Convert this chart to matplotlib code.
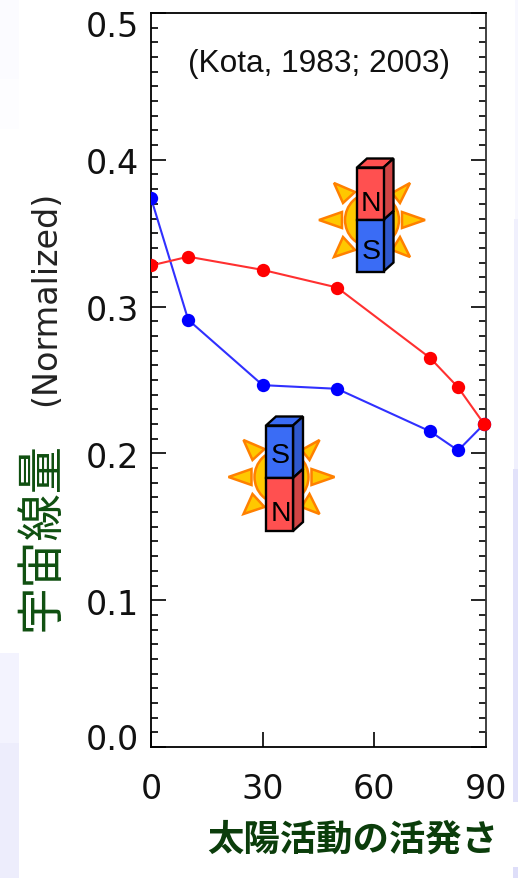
import matplotlib
matplotlib.use("Agg")
import matplotlib.pyplot as plt
from matplotlib.patches import Polygon, Rectangle, Circle
from matplotlib.transforms import Bbox, TransformedBbox

activity_x = [0, 10, 30, 50, 75, 82.5, 89.5]
red_values = [0.328, 0.334, 0.325, 0.313, 0.265, 0.245, 0.220]
blue_values = [0.374, 0.291, 0.2465, 0.244, 0.215, 0.202, 0.220]
x_ticks = [0, 30, 60, 90]
y_ticks = [0.0, 0.1, 0.2, 0.3, 0.4, 0.5]
y_label_shift_px = [-8, 4, 4, 4, 4, 13]
y_minor = [i / 100 for i in range(0, 51)]

W, H = 518, 879
fig = plt.figure(figsize=(W / 100, H / 100), dpi=100, facecolor="white")

# background slide remnants
bg = fig.add_axes([0, 0, 1, 1], zorder=0)
bg.set_xlim(0, W); bg.set_ylim(H, 0); bg.axis("off")
for (x, y, w, h, c) in [(0, 0, 19, 80, "#fbfbff"), (0, 80, 19, 50, "#fdfdff"),
                        (0, 654, 19, 90, "#f3f3fe"), (0, 744, 19, 135, "#ededfc"),
                        (515, 0, 3, 220, "#f8f8ff"), (514, 220, 4, 250, "#f0f0fd"),
                        (513, 470, 5, 333, "#e2e2fa"), (516, 803, 2, 65, "#ffffff"),
                        (513, 868, 5, 11, "#dedef9")]:
    bg.add_patch(Rectangle((x, y), w, h, fc=c, ec="none"))

# main plot
ax = fig.add_axes([151 / W, 1 - 748 / H, (486 - 151) / W, (748 - 14) / H], zorder=1)
ax.patch.set_alpha(0)
ax.set_xlim(0, 90); ax.set_ylim(0, 0.5)
ax.set_xticks(x_ticks); ax.set_yticks(y_ticks)
ax.set_yticks(y_minor, minor=True)
ax.tick_params(axis="y", which="major", direction="in", length=10.5, width=1.2, left=True, right=True,
               labelleft=False)
ax.tick_params(axis="y", which="minor", direction="in", length=5.3, width=1.2, left=True, right=True)
ax.tick_params(axis="x", which="major", direction="in", length=10.5, width=1.2, top=False,
               labelsize=24, pad=18, labelcolor="#111111")
for v, shift in zip(y_ticks, y_label_shift_px):
    ax.annotate(f"{v:.1f}", xy=(0, v), xycoords=("data", "data"), xytext=(-8.6, -shift * 0.72),
                textcoords="offset points", ha="right", va="center", fontsize=24,
                color="#111111", annotation_clip=False)
for s in ax.spines.values():
    s.set_linewidth(1.3)
ax.spines["right"].set_color("#333333")

clip = TransformedBbox(Bbox([[0, 0], [1.1, 1]]), ax.transAxes)
for vals, col, line_col, z in [(blue_values, "#0000ff", "#3030ff", 3), (red_values, "#ff0000", "#ff3030", 4)]:
    ln, = ax.plot(activity_x, vals, "-", color=line_col, lw=1.5, zorder=z)
    mk, = ax.plot(activity_x, vals, "o", color=col, ms=9.6, mew=0, zorder=z + 0.1)
    ln.set_clip_box(clip); mk.set_clip_box(clip)

# overlay in pixels: text and emblems
ov = fig.add_axes([0, 0, 1, 1], zorder=5)
ov.set_xlim(0, W); ov.set_ylim(H, 0); ov.axis("off")


def emblem(cx, cy, fx0, fx1, ftop, fmid, fbot, top_col, top_side, top_cap, bot_col, bot_side,
           top_lab, bot_lab, top_y, bot_y):
    ov.add_patch(Circle((cx, cy), 27, fc="#ffc800", ec="#ff8000", lw=1.8))
    for tip, b1, b2 in [((-53, 0), (-30, -8), (-30, 8)), ((53, 0), (30, -8), (30, 8)),
                        ((-38, -37), (-17, -28), (-29, -17)), ((38, -37), (20, -27), (28, -17)),
                        ((-38, 37), (-29, 17), (-17, 30)), ((38, 37), (28, 17), (20, 30))]:
        ov.add_patch(Polygon([(cx + tip[0], cy + tip[1]), (cx + b1[0], cy + b1[1]), (cx + b2[0], cy + b2[1])],
                             closed=True, fc="#ffc800", ec="#ff8000", lw=1.8, joinstyle="miter"))
    dx, dy = 10, -9
    lw = 1.7
    ov.add_patch(Polygon([(fx0, ftop), (fx1, ftop), (fx1 + dx, ftop + dy), (fx0 + dx, ftop + dy)],
                         fc=top_cap, ec="black", lw=lw))
    ov.add_patch(Polygon([(fx1, ftop), (fx1 + dx, ftop + dy), (fx1 + dx, fmid + dy), (fx1, fmid)],
                         fc=top_side, ec="black", lw=lw))
    ov.add_patch(Polygon([(fx1, fmid), (fx1 + dx, fmid + dy), (fx1 + dx, fbot + dy), (fx1, fbot)],
                         fc=bot_side, ec="black", lw=lw))
    ov.add_patch(Rectangle((fx0, ftop), fx1 - fx0, fmid - ftop, fc=top_col, ec="black", lw=lw))
    ov.add_patch(Rectangle((fx0, fmid), fx1 - fx0, fbot - fmid, fc=bot_col, ec="black", lw=lw))
    xc = (fx0 + fx1) / 2 + 1
    ov.text(xc, top_y + 2, top_lab, ha="center", va="center", fontsize=20.5, family="Liberation Sans")
    ov.text(xc, bot_y + 2, bot_lab, ha="center", va="center", fontsize=20.5, family="Liberation Sans")


RED, REDS, BLUE, BLUES = "#ff5050", "#d04444", "#3a6cf5", "#2f58cc"
emblem(372, 221, 357, 383.5, 168.5, 221, 272.5, RED, REDS, RED, BLUE, BLUES, "N", "S", 202, 250)
emblem(281.5, 478, 266, 293, 426.5, 479, 532, BLUE, BLUES, BLUE, RED, REDS, "S", "N", 454, 512)

ov.text(318.5, 64, "(Kota, 1983; 2003)", ha="center", va="center", fontsize=22.8, family="Liberation Sans", color="#111111")
ov.text(46, 298, "(Normalized)", rotation=90, ha="center", va="center", fontsize=24, color="#222222", family="DejaVu Sans")
ov.text(41, 537, "宇宙線量", rotation=90, ha="center", va="center", fontsize=34, color="#0f4f10", family="Noto Sans CJK JP")
ov.text(352.5, 840, "太陽活動の活発さ", ha="center", va="center", fontsize=26.2, color="#0b3d0b", fontweight="bold", family="Noto Sans CJK JP")

fig.savefig("out.png", dpi=100)
